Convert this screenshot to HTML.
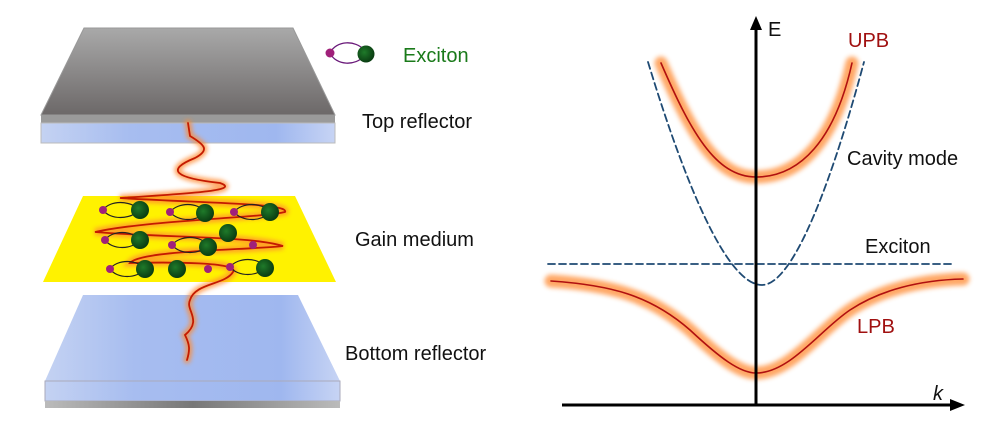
<!DOCTYPE html>
<html><head><style>body{margin:0;background:#fff}svg{display:block}</style></head><body>
<svg width="1003" height="435" viewBox="0 0 1003 435" xmlns="http://www.w3.org/2000/svg" font-family="Liberation Sans, sans-serif">
<defs>
<linearGradient id="gtop" x1="0" y1="0" x2="0" y2="1"><stop offset="0" stop-color="#a9a9a9"/><stop offset="1" stop-color="#6c6868"/></linearGradient>
<linearGradient id="blue" x1="0" y1="0" x2="1" y2="0"><stop offset="0" stop-color="#c4d2f2"/><stop offset="0.3" stop-color="#a7bdf0"/><stop offset="0.8" stop-color="#9fb7ef"/><stop offset="1" stop-color="#c7d4f4"/></linearGradient>
<linearGradient id="gray" x1="0" y1="0" x2="1" y2="0"><stop offset="0" stop-color="#bbb"/><stop offset="0.5" stop-color="#777"/><stop offset="1" stop-color="#bbb"/></linearGradient>
<filter id="bl" x="-20%" y="-20%" width="140%" height="140%"><feGaussianBlur stdDeviation="2"/></filter>
<filter id="bl2" x="-20%" y="-20%" width="140%" height="140%"><feGaussianBlur stdDeviation="2.5"/></filter>
<radialGradient id="gs" cx="0.4" cy="0.4" r="0.6"><stop offset="0" stop-color="#1f7a2a"/><stop offset="1" stop-color="#0a3d12"/></radialGradient>
<path id="w" d="M188,123 L190,136 C205,145 210,150 195,158 C165,170 175,178 220,183 C240,190 200,193 120,198 C200,203 290,203 285,212 C260,218 150,220 95,232 C170,238 250,236 283,246 C250,250 140,250 130,263 C170,262 240,262 233,272 C225,285 195,283 190,300 C185,310 203,320 185,335 C190,345 190,350 187,360"/>
<path id="u" d="M661,63 C690,130 715,177 756,177 C800,177 835,140 852,63"/>
<path id="l" d="M551,281 C610,285 650,295 690,330 C720,358 740,373 756,373 C790,373 820,330 850,310 C880,290 920,280 963,279"/>
</defs>
<polygon points="84,28 293,28 335,115 41,115" fill="url(#gtop)" stroke="#999"/>
<rect x="41" y="115" width="294" height="8" fill="#9a9a9a"/>
<rect x="41" y="123" width="294" height="20" fill="url(#blue)" stroke="#bbb"/>
<polygon points="83,295 298,295 340,381 45,381" fill="url(#blue)"/>
<rect x="45" y="381" width="295" height="20" fill="url(#blue)" stroke="#aab"/>
<rect x="45" y="401" width="295" height="7" fill="url(#gray)"/>
<polygon points="83,196 295,196 336,282 43,282" fill="#fff200"/>
<g fill="none" stroke-linecap="round">
<use href="#w" stroke="#ff8a30" stroke-width="7" opacity="0.75" filter="url(#bl)"/>
<use href="#w" stroke="#c41a00" stroke-width="1.8"/>
</g>
<g stroke="#222" stroke-width="1.2" fill="none">
<path d="M103,210 C110,200 130,200 140,210 M103,210 C110,220 130,220 140,210"/>
<path d="M170,212 C178,202 198,202 205,212 M170,212 C178,222 198,222 205,212"/>
<path d="M234,212 C242,202 262,202 270,212 M234,212 C242,222 262,222 270,212"/>
<path d="M105,240 C112,230 132,230 140,240 M105,240 C112,250 132,250 140,240"/>
<path d="M172,245 C180,235 200,235 208,245 M172,245 C180,255 200,255 208,245"/>
<path d="M110,269 C117,259 137,259 145,269 M110,269 C117,279 137,279 145,269"/>
<path d="M230,267 C238,257 258,257 265,267 M230,267 C238,277 258,277 265,267"/>
</g>
<g fill="url(#gs)">
<circle cx="140" cy="210" r="9"/><circle cx="205" cy="213" r="9"/><circle cx="270" cy="212" r="9"/>
<circle cx="140" cy="240" r="9"/><circle cx="208" cy="247" r="9"/><circle cx="228" cy="233" r="9"/>
<circle cx="145" cy="269" r="9"/><circle cx="177" cy="269" r="9"/><circle cx="265" cy="268" r="9"/>
</g>
<g fill="#a0207a">
<circle cx="103" cy="210" r="4"/><circle cx="170" cy="212" r="4"/><circle cx="234" cy="212" r="4"/>
<circle cx="105" cy="240" r="4"/><circle cx="172" cy="245" r="4"/><circle cx="253" cy="245" r="4"/>
<circle cx="110" cy="269" r="4"/><circle cx="208" cy="269" r="4"/><circle cx="230" cy="267" r="4"/>
</g>
<path d="M330,53 C336,40 356,40 364,50 M330,53 C336,66 356,66 364,56" stroke="#6a1a7a" stroke-width="1.3" fill="none"/>
<circle cx="330" cy="53" r="4.5" fill="#a0207a"/>
<circle cx="366" cy="54" r="8.5" fill="url(#gs)"/>
<g font-size="20" fill="#111">
<text x="403" y="62" fill="#1a7a1a">Exciton</text>
<text x="362" y="128">Top reflector</text>
<text x="355" y="246">Gain medium</text>
<text x="345" y="360">Bottom reflector</text>
</g>
<g fill="none" stroke-linecap="round">
<use href="#u" stroke="#ff8a30" stroke-width="13" opacity="0.75" filter="url(#bl2)"/>
<use href="#u" stroke="#b01010" stroke-width="1.6"/>
<use href="#l" stroke="#ff8a30" stroke-width="13" opacity="0.75" filter="url(#bl2)"/>
<use href="#l" stroke="#b01010" stroke-width="1.6"/>
<path d="M648,62 C690,200 730,285 762,285 C795,285 835,170 864,62" stroke="#1f4a73" stroke-width="1.8" stroke-dasharray="7,4"/>
<line x1="548" y1="264" x2="955" y2="264" stroke="#1f4a73" stroke-width="1.8" stroke-dasharray="7,4"/>
</g>
<line x1="756" y1="405" x2="756" y2="26" stroke="#000" stroke-width="3"/>
<polygon points="756,16 750,30 762,30" fill="#000"/>
<line x1="562" y1="405" x2="955" y2="405" stroke="#000" stroke-width="3"/>
<polygon points="965,405 950,399 950,411" fill="#000"/>
<g font-size="20">
<text x="768" y="36" fill="#111">E</text>
<text x="848" y="47" fill="#a01010">UPB</text>
<text x="847" y="165" fill="#111">Cavity mode</text>
<text x="865" y="253" fill="#111">Exciton</text>
<text x="857" y="333" fill="#a01010">LPB</text>
<text x="933" y="400" font-style="italic" fill="#111">k</text>
</g>
</svg>
</body></html>
